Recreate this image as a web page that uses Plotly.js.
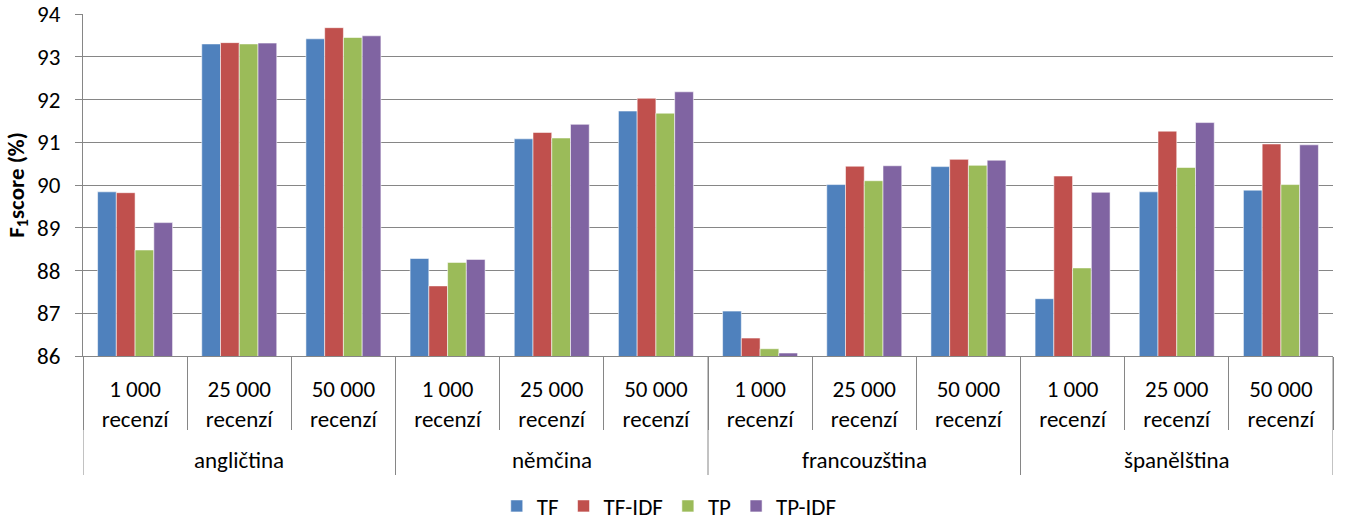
<!DOCTYPE html>
<html>
<head>
<meta charset="utf-8">
<script src="https://cdn.plot.ly/plotly-3.0.1.min.js"></script>
<style>html,body{margin:0;padding:0;background:#fff;}#chart{width:1346px;height:524px;}</style>
</head>
<body>
<div id="chart"></div>
<script>
const languages = ['angličtina', 'němčina', 'francouzština', 'španělština'];
const sizeLabels = ['1 000<br>recenzí', '25 000<br>recenzí', '50 000<br>recenzí'];
const seriesNames = ['TF', 'TF-IDF', 'TP', 'TP-IDF'];
const seriesColors = ['#4F81BD', '#C0504D', '#9BBB59', '#8064A2'];

const TF     = [89.84, 93.30, 93.42, 88.28, 91.08, 91.73, 87.05, 90.01, 90.43, 87.34, 89.84, 89.88];
const TF_IDF = [89.82, 93.33, 93.68, 87.64, 91.23, 92.03, 86.42, 90.44, 90.60, 90.21, 91.26, 90.96];
const TP     = [88.48, 93.30, 93.45, 88.19, 91.10, 91.68, 86.17, 90.10, 90.46, 88.06, 90.41, 90.01];
const TP_IDF = [89.12, 93.32, 93.49, 88.26, 91.42, 92.18, 86.07, 90.45, 90.58, 89.83, 91.46, 90.94];

const seriesValues = [TF, TF_IDF, TP, TP_IDF];

const xPos = [], tickText = [];
languages.forEach((g, gi) => sizeLabels.forEach((s, si) => { xPos.push(gi * sizeLabels.length + si); tickText.push(s); }));
const nCat = xPos.length;
const nSub = sizeLabels.length;

const FONT = 'Carlito, Lato, "Open Sans", sans-serif';
const FS = 23;
const GRAY = '#868686';

const traces = seriesNames.map((name, i) => ({
  type: 'bar',
  name: name,
  x: xPos,
  y: seriesValues[i],
  base: 0,
  marker: { color: seriesColors[i], line: { color: 'rgba(255,255,255,0.55)', width: 1 } }
}));

const W = 1346, H = 524, mt = 14, mb = 168, ml = 83, mr = 13;
const plotH = H - mt - mb;
const py = (pix) => (plotH + mt - pix) / plotH;

const shapes = [];
for (let g = 0; g <= languages.length; g++) {
  const xb = g * nSub - 0.5;
  shapes.push({ type: 'line', xref: 'x', yref: 'paper', x0: xb, x1: xb, y0: 0, y1: py(475), line: { color: GRAY, width: 1 } });
}
const annotations = languages.map((g, gi) => ({
  xref: 'x', yref: 'paper', x: gi * nSub + (nSub - 1) / 2, y: py(460),
  text: g, showarrow: false, xanchor: 'center', yanchor: 'middle',
  font: { family: FONT, size: FS, color: '#000' }
}));

const layout = {
  width: W, height: H,
  margin: { l: ml, r: mr, t: mt, b: mb },
  paper_bgcolor: '#fff', plot_bgcolor: '#fff',
  barmode: 'group', bargap: 0.28, bargroupgap: 0,
  font: { family: FONT, size: FS, color: '#000' },
  showlegend: true,
  legend: {
    orientation: 'h', xref: 'paper', x: 0.469, xanchor: 'center',
    yref: 'container', y: (H - 506) / H, yanchor: 'middle',
    font: { family: FONT, size: FS, color: '#000' }, itemwidth: 30, tracegroupgap: 0
  },
  xaxis: {
    type: 'linear', range: [-0.5, nCat - 0.5],
    tickvals: xPos, ticktext: tickText, ticks: '', showgrid: false, zeroline: false,
    showline: true, linecolor: GRAY, linewidth: 1,
    tickfont: { family: FONT, size: FS, color: '#000' },
    ticklabelstandoff: 12,
    minor: { ticks: 'outside', tick0: 0.5, dtick: 1, ticklen: 73, tickcolor: GRAY, tickwidth: 1, showgrid: false },
    fixedrange: true
  },
  yaxis: {
    range: [86, 94], dtick: 1, tick0: 86,
    showgrid: true, gridcolor: GRAY, gridwidth: 1, zeroline: false,
    showline: true, linecolor: GRAY, linewidth: 1,
    ticks: 'outside', ticklen: 7, tickcolor: GRAY,
    ticklabelstandoff: 10,
    tickfont: { family: FONT, size: FS, color: '#000' },
    title: { text: '<b>F<sub>1</sub>score (%)</b>', font: { family: FONT, size: FS, color: '#000' }, standoff: 6 },
    fixedrange: true
  },
  shapes: shapes,
  annotations: annotations
};

Plotly.newPlot('chart', traces, layout, { displayModeBar: false, staticPlot: true });
</script>
</body>
</html>
